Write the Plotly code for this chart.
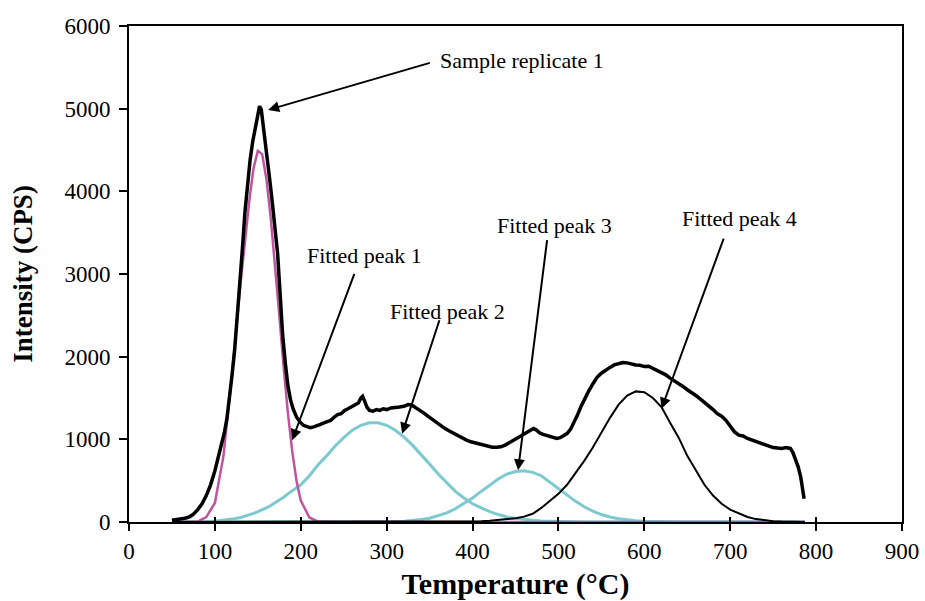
import plotly.graph_objects as go

# ---------------- data ----------------
sample_x = [50, 55, 60, 65, 70, 75, 80, 85, 90, 95, 100, 104, 108, 111, 114, 117, 120, 123, 126, 129,
            132, 135, 138, 141, 144, 147, 150, 152, 154, 156, 158, 161, 164, 167, 170, 173, 176, 179, 182, 185,
            188, 191, 195, 199, 203, 207, 211, 215, 219, 223, 227, 231, 235, 239, 243, 247, 251, 255, 259, 263,
            267, 270, 272, 274, 277, 280, 284, 288, 292, 296, 300, 305, 310, 315, 320, 325, 329, 333, 338, 343,
            348, 353, 358, 363, 368, 373, 378, 383, 388, 393, 398, 403, 408, 413, 418, 423, 428, 433, 438, 443,
            448, 453, 458, 463, 467, 471, 474, 478, 482, 486, 490, 494, 498, 502, 506, 510, 514, 518, 522, 526,
            530, 535, 540, 545, 550, 555, 560, 565, 570, 575, 580, 585, 590, 595, 600, 605, 610, 615, 620, 625,
            630, 635, 640, 645, 650, 655, 660, 665, 670, 675, 680, 685, 690, 695, 700, 705, 710, 715, 720, 725,
            730, 735, 740, 745, 750, 755, 760, 765, 770, 773, 776, 779, 782, 784, 786]
sample_y = [20, 25, 35, 45, 60, 95, 150, 220, 320, 450, 620, 780, 930, 1080, 1250, 1480, 1780, 2080, 2450, 2850,
            3300, 3750, 4100, 4380, 4600, 4780, 4950, 5030, 4990, 4830, 4660, 4400, 4130, 3850, 3550, 3250, 2750, 2250, 1920, 1650,
            1480, 1370, 1270, 1210, 1170, 1150, 1140, 1150, 1160, 1180, 1200, 1210, 1230, 1270, 1300, 1310, 1350, 1370, 1390, 1410,
            1440, 1500, 1520, 1470, 1390, 1350, 1340, 1360, 1350, 1370, 1360, 1380, 1380, 1390, 1400, 1420, 1415, 1390, 1360, 1320,
            1280, 1240, 1200, 1170, 1130, 1100, 1070, 1040, 1010, 990, 970, 955, 945, 930, 915, 905, 905, 910, 930, 960,
            990, 1020, 1050, 1080, 1110, 1130, 1115, 1080, 1060, 1045, 1030, 1020, 1010, 1020, 1040, 1070, 1120, 1200, 1290, 1390,
            1480, 1580, 1670, 1750, 1800, 1840, 1870, 1900, 1920, 1930, 1925, 1910, 1900, 1895, 1880, 1885, 1860, 1830, 1800, 1780,
            1740, 1710, 1670, 1640, 1600, 1570, 1530, 1490, 1450, 1400, 1360, 1310, 1280, 1230, 1160, 1090, 1050, 1040, 1010, 990,
            970, 950, 940, 920, 900, 895, 890, 900, 890, 840, 760, 670, 550, 420, 280]

fit_x = [50, 60, 70, 80, 90, 100, 110, 120, 130, 140, 145, 150, 155, 160, 165, 170, 175, 180, 185, 190,
         195, 200, 210, 220, 230, 240, 250, 260, 270, 280, 290, 300, 310, 320, 330, 340, 350, 360, 370, 380,
         390, 400, 410, 420, 430, 440, 450, 460, 470, 480, 490, 500, 510, 520, 530, 540, 550, 560, 570, 580,
         590, 600, 610, 620, 630, 640, 650, 660, 670, 680, 690, 700, 710, 720, 730, 740, 750, 760, 770, 780, 787]

peak1_y = [0, 0, 0, 5, 60, 230, 800, 1800, 2900, 3880, 4280, 4490, 4450, 4150, 3680, 3120, 2500, 1880, 1320, 860,
           500, 260, 55, 5, 0, 0, 0, 0, 0, 0, 0, 0, 0, 0, 0, 0, 0, 0, 0, 0,
           0, 0, 0, 0, 0, 0, 0, 0, 0, 0, 0, 0, 0, 0, 0, 0, 0, 0, 0, 0,
           0, 0, 0, 0, 0, 0, 0, 0, 0, 0, 0, 0, 0, 0, 0, 0, 0, 0, 0, 0, 0]

peak2_y = [0, 0, 1, 2, 5, 10, 20, 35, 55, 85, 105, 125, 145, 170, 200, 230, 265, 300, 340, 380,
           415, 450, 560, 690, 800, 920, 1020, 1110, 1170, 1200, 1200, 1170, 1110, 1030, 930, 820, 700, 580, 470, 370,
           290, 220, 170, 125, 90, 60, 45, 30, 20, 12, 8, 5, 3, 2, 1, 0, 0, 0, 0, 0,
           0, 0, 0, 0, 0, 0, 0, 0, 0, 0, 0, 0, 0, 0, 0, 0, 0, 0, 0, 0, 0]

peak3_y = [0, 0, 0, 0, 0, 0, 0, 0, 0, 0, 0, 0, 0, 0, 0, 0, 0, 0, 0, 0,
           0, 0, 0, 0, 0, 0, 0, 0, 0, 1, 2, 3, 6, 10, 18, 30, 45, 75, 110, 160,
           220, 290, 370, 450, 520, 580, 610, 620, 600, 560, 480, 400, 320, 250, 185, 130, 90, 60, 40, 25,
           15, 10, 6, 4, 2, 0, 0, 0, 0, 0, 0, 0, 0, 0, 0, 0, 0, 0, 0, 0, 0]

peak4_y = [0, 0, 0, 0, 0, 0, 0, 0, 0, 0, 0, 0, 0, 0, 0, 0, 0, 0, 0, 0,
           0, 0, 0, 0, 0, 0, 0, 0, 0, 0, 0, 0, 0, 0, 0, 0, 1, 1, 2, 3,
           4, 5, 8, 15, 22, 30, 45, 65, 100, 170, 250, 340, 450, 590, 740, 900, 1080, 1260, 1420, 1530,
           1580, 1570, 1500, 1390, 1200, 1020, 800, 620, 450, 320, 220, 150, 100, 60, 35, 20, 10, 5, 2, 0, 0]

x_ticks = [0, 100, 200, 300, 400, 500, 600, 700, 800, 900]
y_ticks = [0, 1000, 2000, 3000, 4000, 5000, 6000]

# annotations: (label, text_x, text_y, tail_x, tail_y, head_x, head_y)
labels = [
    ("Sample replicate 1", 360, 5583, 352, 5559, 162, 4985),
    ("Fitted peak 1", 205, 3224, 263, 3020, 190, 990),
    ("Fitted peak 2", 301, 2544, 362, 2459, 318, 1069),
    ("Fitted peak 3", 426, 3587, 487, 3427, 453, 625),
    ("Fitted peak 4", 641, 3670, 693, 3446, 620, 1371),
]

MAGENTA = "#C0559F"
CYAN = "#7CCACF"
FONT = "Liberation Serif"

fig = go.Figure()
fig.add_trace(go.Scatter(x=fit_x, y=peak4_y, mode="lines", line=dict(color="black", width=2),
                         name="Fitted peak 4", xaxis="x2"))
fig.add_trace(go.Scatter(x=fit_x, y=peak3_y, mode="lines", line=dict(color=CYAN, width=3), name="Fitted peak 3"))
fig.add_trace(go.Scatter(x=fit_x, y=peak2_y, mode="lines", line=dict(color=CYAN, width=3), name="Fitted peak 2"))
fig.add_trace(go.Scatter(x=fit_x, y=peak1_y, mode="lines", line=dict(color=MAGENTA, width=2.5), name="Fitted peak 1"))
fig.add_trace(go.Scatter(x=sample_x, y=sample_y, mode="lines", line=dict(color="black", width=3.5), name="Sample replicate 1"))

annotations = []
for text, tx, ty, ax, ay, hx, hy in labels:
    annotations.append(dict(x=hx, y=hy, ax=ax, ay=ay, xref="x", yref="y", axref="x", ayref="y",
                            text="", showarrow=True, arrowhead=2, arrowsize=1.1, arrowwidth=2,
                            arrowcolor="black", standoff=0, startstandoff=0))
    annotations.append(dict(x=tx, y=ty, xref="x", yref="y", text=text, showarrow=False,
                            xanchor="left", yanchor="middle",
                            font=dict(family=FONT, size=22, color="black")))

fig.update_layout(
    width=925, height=601,
    margin=dict(l=129, r=23, t=26, b=79),
    paper_bgcolor="white", plot_bgcolor="white",
    showlegend=False,
    annotations=annotations,
    font=dict(family=FONT, color="black"),
)
fig.update_layout(
    xaxis=dict(
        range=[0, 900], tickvals=x_ticks, ticktext=[str(v) for v in x_ticks],
        showgrid=False, zeroline=False, showline=True, mirror=True, linecolor="black", linewidth=2,
        ticks="outside", ticklen=7, tickwidth=2, tickcolor="black", automargin=False,
        tickfont=dict(family=FONT, size=23, color="black"), ticklabelstandoff=0,
        title=dict(text="<b>Temperature (°C)</b>", font=dict(family=FONT, size=30, color="black"), standoff=10),
    ),
    xaxis2=dict(overlaying="x", range=[0, 900], tickvals=x_ticks, showticklabels=False,
                ticks="inside", ticklen=5, tickwidth=2, tickcolor="black",
                showgrid=False, zeroline=False, showline=False, mirror=False,
                automargin=False, side="bottom"),
    yaxis=dict(
        range=[0, 6000], tickvals=y_ticks, ticktext=[str(v) for v in y_ticks],
        showgrid=False, zeroline=False, showline=True, mirror=True, linecolor="black", linewidth=2,
        ticks="outside", ticklen=8, tickwidth=2, tickcolor="black", automargin=False,
        tickfont=dict(family=FONT, size=23, color="black"), ticklabelstandoff=4,
        title=dict(text="<b>Intensity (CPS)</b>", font=dict(family=FONT, size=27, color="black"), standoff=24),
    ),
)

fig.write_html("out.html")
